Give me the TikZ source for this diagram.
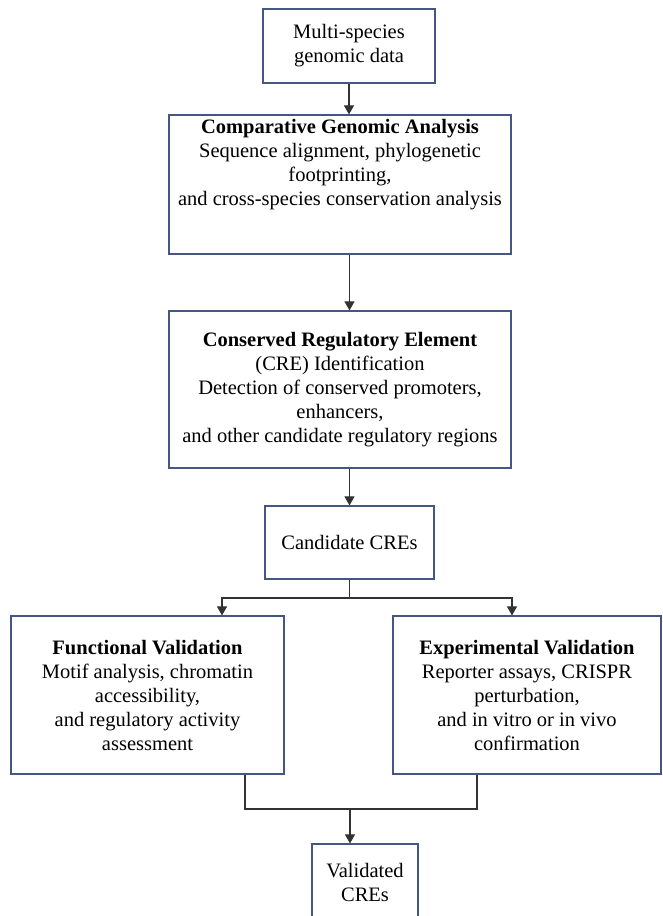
\documentclass[tikz,border=0pt]{standalone}
\usepackage{fontspec}
\setmainfont{Liberation Serif}
\usetikzlibrary{arrows.meta,positioning}

\definecolor{boxline}{RGB}{70,86,130}
\definecolor{wirecol}{RGB}{50,50,50}

\begin{document}
\begin{tikzpicture}
      [
        x = 1pt, y = -1pt,
        box/.style = {draw=boxline, line width=1.2pt, align=center, inner sep=0pt,
                      font=\fontsize{20.5}{24}\selectfont},
        txt/.style = {align=center, inner sep=0pt, font=\fontsize{20.5}{24}\selectfont},
        wire/.style = {draw=wirecol, line width=1.1pt},
        arr/.style = {wire, -{Triangle[length=9pt, width=10pt]}},
      ]

      \useasboundingbox (0,0) rectangle (662,916);

      \node[box, minimum width=172, minimum height=74] (data) at (349,46)
        {Multi-species\\genomic data};
      \node[box, minimum width=342, minimum height=139] (cga) at (340,184.5) {};
      \node[txt, below=5pt of cga.north] (cgatxt)
        {\textbf{Comparative Genomic Analysis}\\
         Sequence alignment, phylogenetic\\footprinting,\\
         and cross-species conservation analysis};
      \node[box, minimum width=342, minimum height=157] (cre) at (340,389.5)
        {\textbf{Conserved Regulatory Element}\\(CRE) Identification\\
         Detection of conserved promoters,\\enhancers,\\
         and other candidate regulatory regions};
      \node[box, minimum width=169, minimum height=73] (cand) at (349.5,542.5)
        {Candidate CREs};
      \node[box, minimum width=273, minimum height=158] (func) at (147.5,695)
        {\textbf{Functional Validation}\\Motif analysis, chromatin\\accessibility,\\
         and regulatory activity\\assessment};
      \node[box, minimum width=268, minimum height=158] (expt) at (527,695)
        {\textbf{Experimental Validation}\\Reporter assays, CRISPR\\perturbation,\\
         and in vitro or in vivo\\confirmation};
      \node[box, minimum width=106, minimum height=76] (valid) at (365,882)
        {Validated\\CREs};

      \coordinate (split) at (349.5,598);
      \coordinate (merge) at (350,809);

      \draw[arr] (data.south) -- (data.south |- cga.north);
      \draw[arr] (cand.north |- cga.south) -- (cand.north |- cre.north);
      \draw[arr] (cand.north |- cre.south) -- (cand.north);

      \draw[wire] (cand.south) -- (split);
      \draw[arr] (split) -| ([xshift=74.5pt]func.north);
      \draw[arr] (split) -| ([xshift=-15pt]expt.north);

      \draw[wire] ([xshift=97.5pt]func.south) |- (merge) -| ([xshift=-50pt]expt.south);
      \draw[arr] (merge) -- (merge |- valid.north);

    \end{tikzpicture}
\end{document}
